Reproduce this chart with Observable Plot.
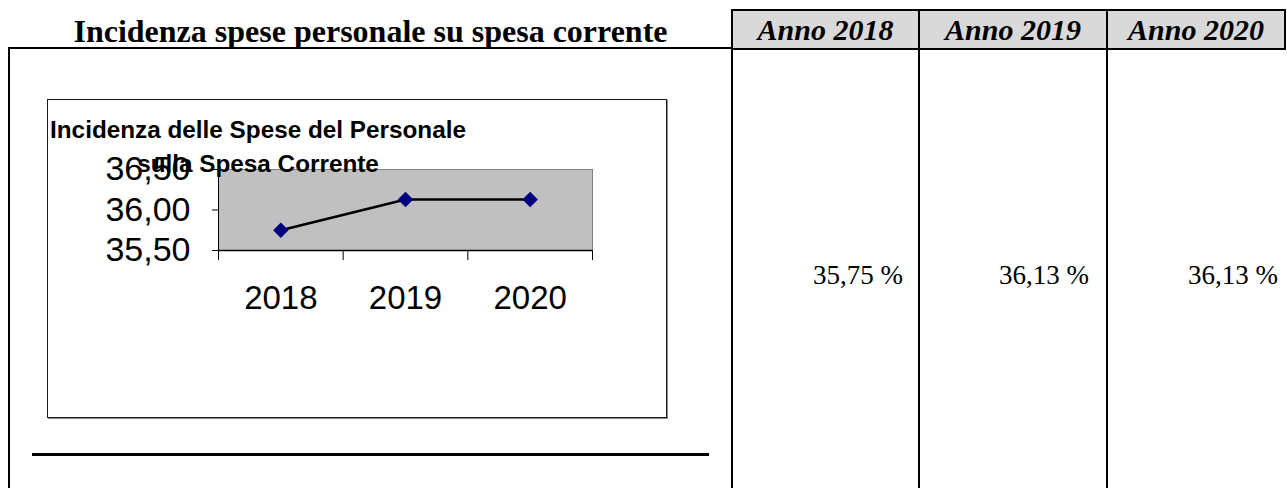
<!DOCTYPE html>
<html>
<head>
<meta charset="utf-8">
<script src="https://cdn.jsdelivr.net/npm/d3@7"></script>
<script src="https://cdn.jsdelivr.net/npm/@observablehq/plot@0.6"></script>
<style>
  html, body { margin: 0; padding: 0; background: #fff; }
  #page { position: relative; width: 1287px; height: 488px; overflow: hidden; background: #fff; }
  .abs { position: absolute; box-sizing: border-box; }
  #title { left: 9px; width: 723px; top: 11px; height: 40px; text-align: center;
           font: bold 32px "Liberation Serif", "Times New Roman", serif; line-height: 40px; color: #000; white-space: nowrap; }
  .hcell { top: 9px; height: 41px; background: #d9d9d9; border: 2px solid #000;
           text-align: center; font: italic bold 30px "Liberation Serif", "Times New Roman", serif; line-height: 37px; color: #000; white-space: nowrap; }
  .bcell { top: 48px; height: 460px; border-left: 2px solid #000; }
  .val { font: 27px "Liberation Serif", "Times New Roman", serif; color: #000; text-align: right; white-space: nowrap; top: 259px; line-height: 32px; }
  #leftcell { left: 8px; top: 47px; width: 726px; height: 460px; border-left: 2px solid #000; border-top: 2px solid #000; }
  #rule { left: 32px; top: 453px; width: 677px; height: 3px; background: #000; }
  #chartbox { left: 47px; top: 99px; width: 620px; height: 319px; border: 1px solid #1a1a1a; box-shadow: 1px 1px 0 #888; background: #fff; }
  #charttitle { position: absolute; left: 0; top: 13px; width: 420px; text-align: center;
                font: bold 24.3px "Liberation Sans", Arial, sans-serif; line-height: 34px; color: #000; z-index: 2; white-space: nowrap; }
  #plot { position: absolute; left: 0; top: 0; z-index: 1; }
</style>
</head>
<body>
<div id="page">
  <div id="title" class="abs"></div>
  <div id="leftcell" class="abs"></div>
  <div id="rule" class="abs"></div>
  <div id="chartbox" class="abs">
    <div id="plot"></div>
    <div id="charttitle"></div>
  </div>
</div>
<script>
// ---- data ----
const years = ["2018", "2019", "2020"];
const values = [35.75, 36.13, 36.13];
const yTicks = [35.5, 36.0, 36.5];
const pageTitle = "Incidenza spese personale su spesa corrente";
const chartTitleLines = ["Incidenza delle Spese del Personale", "sulla Spesa Corrente"];
const headerPrefix = "Anno ";

// ---- table layout ----
const page = document.getElementById("page");
document.getElementById("title").textContent = pageTitle;
document.getElementById("charttitle").innerHTML = chartTitleLines.join("<br>");

const colLefts = [732, 919, 1107];
const colWidths = [189, 190, 180];
const valWidths = [171, 170, 171];
const fmtPct = v => d3.format(".2f")(v).replace(".", ",") + " %";

years.forEach((yr, i) => {
  const h = document.createElement("div");
  h.className = "abs hcell";
  h.style.left = (colLefts[i] - 1) + "px";
  h.style.width = colWidths[i] + "px";
  h.textContent = headerPrefix + yr;
  page.appendChild(h);

  const b = document.createElement("div");
  b.className = "abs bcell";
  b.style.left = (colLefts[i] - 1) + "px";
  b.style.width = "190px";
  page.appendChild(b);

  const v = document.createElement("div");
  v.className = "abs val";
  v.style.left = colLefts[i] + "px";
  v.style.width = valWidths[i] + "px";
  v.textContent = fmtPct(values[i]);
  page.appendChild(v);
});

// ---- chart ----
const data = years.map((yr, i) => ({ year: yr, i, value: values[i] }));
const commaFmt = v => d3.format(".2f")(v).replace(".", ",");

const chart = Plot.plot({
  width: 618,
  height: 317,
  marginLeft: 170,
  marginRight: 74,
  marginTop: 69,
  marginBottom: 167,
  style: { fontFamily: "'Liberation Sans', Arial, sans-serif", background: "transparent", overflow: "visible" },
  x: { type: "linear", domain: [0, years.length] },
  y: { domain: [yTicks[0], yTicks[yTicks.length - 1]] },
  marks: [
    Plot.frame({ fill: "#c0c0c0", stroke: "#808080" }),
    Plot.axisY({ ticks: yTicks, tickSize: 6, tickPadding: 22, tickFormat: commaFmt, fontSize: 34, label: null }),
    Plot.axisX({ ticks: d3.range(years.length + 1), tickSize: 10, tickFormat: () => "", label: null }),
    Plot.axisX({ ticks: years.map((_, i) => i + 0.5), tickSize: 0, tickPadding: 35,
                 tickFormat: v => years[Math.floor(v)], fontSize: 33, label: null }),
    Plot.ruleY([yTicks[0]], { stroke: "#000", strokeWidth: 1.5 }),
    Plot.ruleX([0], { stroke: "#000", strokeWidth: 1 }),
    Plot.line(data, { x: d => d.i + 0.5, y: "value", stroke: "#000", strokeWidth: 2.5 }),
    Plot.dot(data, { x: d => d.i + 0.5, y: "value", symbol: "diamond2", r: 6, fill: "#000080", stroke: "#000080" })
  ]
});
document.getElementById("plot").appendChild(chart);
</script>
</body>
</html>
